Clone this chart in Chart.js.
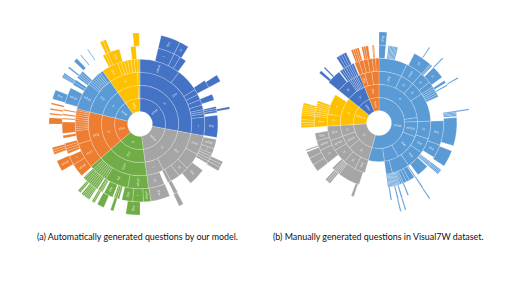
<!DOCTYPE html>
<html>
<head>
<meta charset="utf-8">
<script src="https://cdn.jsdelivr.net/npm/chart.js@4/dist/chart.umd.js"></script>
<style>
html, body { margin: 0; padding: 0; background: #fff; width: 507px; height: 285px; overflow: hidden; }
canvas { position: absolute; filter: blur(0.35px); }
#left-chart { left: 44.5px; top: 29px; }
#right-chart { left: 284.3px; top: 28.3px; }
.caption { position: absolute; top: 231px; font: 8.9px Lato, sans-serif; color: #111; white-space: nowrap; }
</style>
</head>
<body>
<canvas id="left-chart" width="190" height="190"></canvas>
<canvas id="right-chart" width="190" height="190"></canvas>
<div class="caption" style="left:37px">(a) Automatically generated questions by our model.</div>
<div class="caption" style="left:273px">(b) Manually generated questions in Visual7W dataset.</div>
<script>
// degrees of the circle per question group, clockwise from the top
const leftGroups = [100.5, 72, 56.5, 54.5, 41.5, 35];
const leftColors = ['#4472C4', '#A5A5A5', '#70AD47', '#ED7D31', '#5B9BD5', '#FFC000'];
const rightGroups = [196, 70.5, 42.5, 29, 22];
const rightColors = ['#5B9BD5', '#A5A5A5', '#FFC000', '#4472C4', '#ED7D31'];

// ring entries: value or [value, word]. negative value = empty stretch of the ring
const leftRing1 = [[100.5, 'what'], [72, 'what'], [56.5, 'is'], [54.5, 'who'], [41.5, 'how'], [35, 'why']];
const leftRing2 = [[100.5, 'is'], [72, 'is'], [56.5, 'the'], [54.5, 'is'], [41.5, 'is'], 32, 3];
const leftRing3 = [[100.5, 'the'], [52.5, 'the'], [19.5, 'I'], [56.5, 'man'], [54.5, 'png'], [41.5, 'the'], [32, 'is'], 3];
const leftRing4 = [[37, 'what'], 21, 5, 5, 5, 4, 2, 2, 3, [16.5, 'I'],
  [17.5, 'man'], 15, [10, 'cl'], 8.5, 3, -3.5, [14.5, 'in'],
  [18.5, 'what'], [21, 'tat'], 2, 2, 2, 2, 2, 2, 2, 3,
  [23, 'man'], 12, 2, 2, 2, 2, 2, 2, 2, 2, 2, 1.5,
  [24.5, 'what'], 2, 2, 2, 2, 2, 2, 2, 3,
  [15, 'the'], 3, 3, 3, 3, 3, 3, 2];
const leftRing5 = [-13.5, [12.5, 'I'], 5, 5, -20, 6, -5.5, 4.5, -5, 1.5, 1.5, 1.5, -2, [16.5, 'the'],
  -1.5, [7, 'what'], [4, 'I'], 2, 2, 2, 2, -6, [13, 'the'], -11.5, 3, -3.5, [14.5, 'the'],
  [5.5, 'what'], [8, 'I'], [8, 'the'], -2, 1.5, 1.5, 1, -1, [7, 'the'], -1.5, 1, 1, 1.5, -1,
  1.5, 1.5, 1.5, 1.5, 1.5, 1.5, 1.5, 1.5, 1,
  -2, [10, 'what'], [7, 'I'], -2, 2, 2, 2, 2, -4, 2, -1.5, 8.5, -2, 1, -2, 1, -2.5, 1,
  -4.5, [12, 'what'], -3, 2, 2, -2, 1.5, 1.5, 1.5, 1.5, -10,
  -9, 2, 2, [9, 'the'], -8.5, 4];
const leftRing6 = [-13.5, [12.5, 'the'], [6, 'is'], -25.5, 4.5, -17, 1.5, -34, 2, 2, 2.5, -30.5, 3,
  -25.5, [9, 'the'], -8, 2, -4.5, 4.5, -2, 1, 1, -2, 1, 1, 1, 1, 1, 1, -1, 1, 1, -15,
  -1, [7, 'what'], -4.5, 1.5, 1.5, 1.5, -15, 4, -2, 1, -2, 1, -2.5, 1,
  -2.5, [6, 'the'], -9, 1, 1, 1, -4, 1, -4.5, 2.5, -3, 0.6, -5, 0.5,
  -8.9, 2, 2, -17.5, 4];

const rightRing1 = [[196, 'what'], [70.5, 'is'], [42.5, 'where'], [29, 'who'], [22, 'how']];
const rightRing2 = [[82, 'is'], 6, [23, 'which'], [39, 'the'], 22, 24,
  [34, 'in'], [20, 'what'], [16.5, 'is'], [42.5, 'in'], [29, 'is'], [22, 'the']];
const rightRing3 = [[25.5, 'the'], [15, 'is'], [15, 'in'], 32.5, [20, 'in'], [17, 'the'], [20, 'the'], 20, 7, -24,
  [12, 'the'], [14, 'in'], [16, 'is'], [12, 'what'], [16.5, 'the'],
  [13.5, 'in'], [23, 'a'], -6, [16, 'in'], 2, 2, 2, 2, 2, 3, [6, 'the'], 8, 8];
const rightRing4 = [25.5, [15, 'man'], [10.5, 'in'], 5, 2, 2, 2, 2, 2, -22, [22, 'the'], [12, 'the'], -5,
  1, 1, 1, 1, -1, 11, -2.5, 1, -0.5, 5, 3, 3, 1.5, 1.5, 1, 1, 1, 1, 1, 1, 1, 1, 1, 1, 1, -24,
  -2, 20, 1.5, 1.5, 1.5, 1.5, 2, -6, [13, 'in'], [9, 'what'], [7, 'the'], -5.5,
  [9.5, 'the'], 2, 2, 2, 2, 2, 2, 2, -19,
  13, -1, 2, 2, 2, 2, 2, 2, 2, -1, 4, 4, 4, 4, 3, 3];
const rightRing5 = [5, -2, 1, 1, 1, 1, 1, 1, 1, -13, [14, 'of'], 1, 1, -1.5, [9.5, 'in'], -3, 2, -1.5, 1, -19.5,
  1, 1, 1, 1, -1, 21, -4, 12.5, -3.5, 1, 1, 1, 1, -14.5, 1, -11, 1, -4, 1, -2, 1, -4, 1, -27.5, 2,
  -18, 1.5, 1.5, 1.5, -8.5, 5.5, 5.5, 5, -1, 1, -16.5,
  2, 2, 2, 3.5, 1.5, 1.5, 1.5, 1.5, 1.5, 1.5, -25, 2, -3, 1, -11, 2, 2, 2, 2, -4,
  1.5, 1.5, 1.5, 1.5, -2, 1.5, 1.5, 2, -3, 0.7, 0.7];
const rightRing6 = [[5, 'dog'], -28.5, 0.6, -10, 0.8, -15, 0.8, -20.3, 0.8, -64, 0.8, -16, 0.8, -2.4, 0.8];

const ringWidth = 13;
const outerRadius = 91;

// which group a given angle falls into
function groupColor(angle, groups, colors) {
  let sum = 0;
  for (let i = 0; i < groups.length; i++) {
    sum += groups[i];
    if (angle < sum) return colors[i];
  }
  return colors[colors.length - 1];
}

function ringDataset(ring, groups, colors) {
  const data = [], bg = [], bw = [], words = [];
  let pos = 0;
  ring.forEach(entry => {
    const v = Array.isArray(entry) ? entry[0] : entry;
    const word = Array.isArray(entry) ? entry[1] : '';
    const size = Math.abs(v);
    data.push(size);
    bg.push(v < 0 ? 'rgba(0,0,0,0)' : groupColor(pos + size / 2, groups, colors));
    bw.push(v < 0 ? 0 : 0.3);
    words.push(word);
    pos += size;
  });
  if (pos < 360) {
    data.push(360 - pos);
    bg.push('rgba(0,0,0,0)');
    bw.push(0);
    words.push('');
  }
  return { data: data, backgroundColor: bg, borderColor: 'rgba(255,255,255,0.7)', borderWidth: bw, words: words };
}

// tiny white words inside the slices, turned along the radius
const wordsPlugin = {
  id: 'words',
  afterDatasetsDraw(chart) {
    const ctx = chart.ctx;
    ctx.save();
    ctx.fillStyle = 'rgba(255,255,255,0.8)';
    ctx.font = '3.4px "Open Sans", sans-serif';
    ctx.textAlign = 'center';
    ctx.textBaseline = 'middle';
    chart.data.datasets.forEach((ds, d) => {
      chart.getDatasetMeta(d).data.forEach((arc, i) => {
        if (!ds.words[i]) return;
        const p = arc.getCenterPoint();
        const props = arc.getProps(['startAngle', 'endAngle']);
        let a = (props.startAngle + props.endAngle) / 2;
        if (Math.cos(a) < 0) a += Math.PI;
        ctx.save();
        ctx.translate(p.x, p.y);
        ctx.rotate(a);
        ctx.fillText(ds.words[i], 0, 0);
        ctx.restore();
      });
    });
    ctx.restore();
  }
};

function makeSunburst(id, rings, groups, colors) {
  return new Chart(document.getElementById(id), {
    type: 'doughnut',
    data: {
      // dataset 0 is the outermost ring
      datasets: rings.slice().reverse().map(r => ringDataset(r, groups, colors))
    },
    options: {
      responsive: false,
      animation: false,
      radius: outerRadius,
      cutout: outerRadius - ringWidth * rings.length,
      layout: { padding: 0 },
      plugins: { legend: { display: false }, tooltip: { enabled: false } }
    },
    plugins: [wordsPlugin]
  });
}

makeSunburst('left-chart', [leftRing1, leftRing2, leftRing3, leftRing4, leftRing5, leftRing6], leftGroups, leftColors);
makeSunburst('right-chart', [rightRing1, rightRing2, rightRing3, rightRing4, rightRing5, rightRing6], rightGroups, rightColors);
</script>
</body>
</html>
